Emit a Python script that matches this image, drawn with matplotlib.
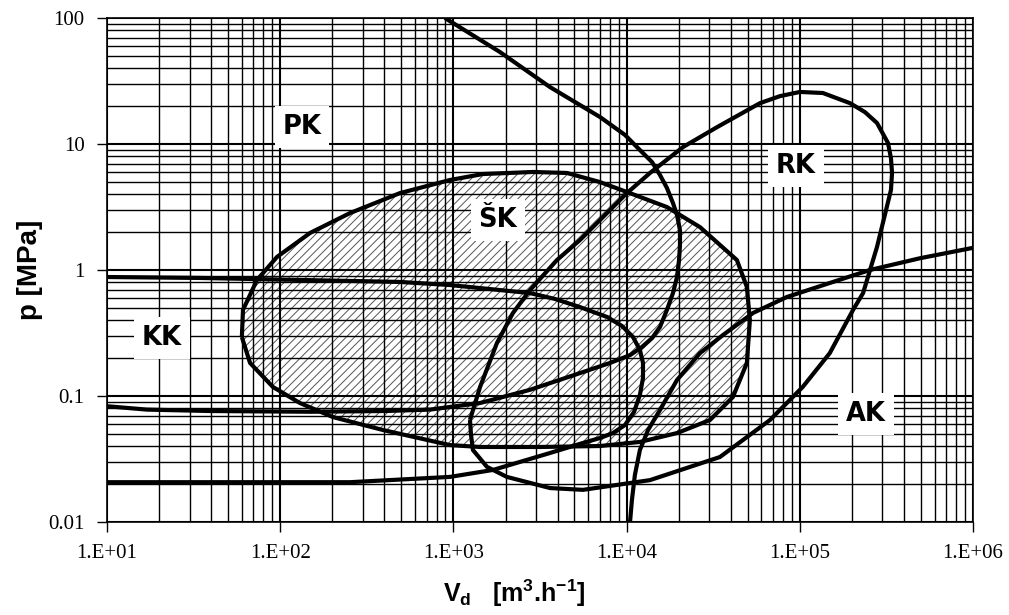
import numpy as np
import matplotlib.pyplot as plt
from matplotlib.ticker import FixedLocator, FuncFormatter, LogLocator, NullFormatter

plt.rcParams['mathtext.fontset'] = 'custom'
plt.rcParams['mathtext.rm'] = 'Liberation Sans'
plt.rcParams['mathtext.bf'] = 'Liberation Sans:bold'
plt.rcParams['hatch.linewidth'] = 0.7

# Boundaries of the compressor application fields, flow [m3/h] vs pressure [MPa]
# PK - piston compressors
pk_q = [894, 1858, 3614, 7015, 9795, 11940, 14030, 15590, 17100, 18530, 19550, 20340,
        20340, 20090, 19550, 18530, 17100, 15590, 14030, 12270, 10470, 8020,
        5380, 2770, 1426, 733, 400, 150, 40, 17, 10]
pk_p = [100, 53.7, 28.3, 16.4, 11.8, 8.96, 7.19, 5.68, 4.48, 3.40, 2.73, 2.07,
        1.58, 1.20, 0.88, 0.656, 0.482, 0.353, 0.288, 0.245, 0.211, 0.183,
        0.152, 0.112, 0.088, 0.078, 0.076, 0.075, 0.076, 0.078, 0.083]

# KK - rotary vane compressors
kk_q = [10, 34.4, 130, 492, 955, 2770, 3864, 5380, 7710, 9400, 10890, 11940, 12440,
        12440, 11940, 11040, 9795, 8340, 7015, 5600, 3614, 1694, 955, 253, 10]
kk_p = [0.88, 0.865, 0.834, 0.804, 0.76, 0.656, 0.589, 0.508, 0.424, 0.360, 0.294, 0.232, 0.183,
        0.139, 0.102, 0.0747, 0.0589, 0.0508, 0.0464, 0.0424, 0.0353, 0.0259, 0.0228, 0.0207, 0.0207]

# RK - radial compressors
rk_q = [1247, 1426, 1786, 2208, 2770, 3963, 5380, 7015, 10050, 13650, 21180, 33270,
        58900, 76900, 100200, 136000, 195000, 238000, 279000, 323000, 336000, 341000,
        336000, 318000, 279000, 232000, 203000, 149000, 104000, 67300, 34600, 13650,
        5600, 3614, 2037, 1563, 1297, 1265, 1247]
rk_p = [0.0645, 0.118, 0.264, 0.456, 0.693, 1.20, 1.73, 2.49, 4.08, 5.89, 9.46, 13.6,
        21.1, 24.0, 25.9, 25.4, 21.1, 17.9, 14.7, 10.2, 7.75, 5.89,
        4.31, 3.16, 1.52, 0.656, 0.482, 0.219, 0.118, 0.0645, 0.0328, 0.0215,
        0.0180, 0.0186, 0.0228, 0.0274, 0.0373, 0.049, 0.0645]

# SK - screw compressors (hatched field)
sk_q = [60.1, 61.0, 73.5, 95.9, 149, 253, 492, 955, 1483, 2884, 4529, 7015, 10050,
        17100, 26540, 43350, 49500, 51500, 49500, 41100, 30300, 19550, 11940, 7015,
        3162, 1426, 955, 393, 202, 130, 90.8, 67.0, 60.1]
sk_p = [0.294, 0.482, 0.834, 1.27, 1.97, 2.83, 4.08, 5.18, 5.78, 6.0, 5.89, 4.99, 4.16,
        3.16, 2.19, 1.20, 0.733, 0.401, 0.183, 0.0982, 0.0645, 0.0508, 0.0432, 0.0401,
        0.0394, 0.0394, 0.0408, 0.0537, 0.068, 0.088, 0.118, 0.183, 0.294]

# AK - axial compressors
ak_q = [10470, 10740, 11170, 11940, 13300, 15590, 19550, 26540, 36060, 53700, 84300,
        149000, 254000, 494000, 1e6]
ak_p = [0.01, 0.015, 0.0236, 0.0373, 0.0537, 0.0774, 0.134, 0.219, 0.305, 0.456, 0.611,
        0.789, 1.0, 1.24, 1.5]

labels = ['PK', 'ŠK', 'KK', 'RK', 'AK']
label_q = [134, 1807, 20.8, 95100, 241000]
label_p = [13.6, 2.5, 0.288, 6.68, 0.072]

x_ticks = [1e1, 1e2, 1e3, 1e4, 1e5, 1e6]
y_ticks = [0.01, 0.1, 1, 10, 100]
y_ticklabels = ['0.01', '0.1', '1', '10', '100']

fig = plt.figure(figsize=(10.09, 6.15), dpi=100)
ax = fig.add_axes([0.1060, 0.1512, 0.8583, 0.8195])
ax.set_xscale('log')
ax.set_yscale('log')
ax.set_xlim(1e1, 1e6)
ax.set_ylim(0.01, 100)

ax.xaxis.set_major_locator(FixedLocator(x_ticks))
ax.xaxis.set_major_formatter(FuncFormatter(lambda v, pos: '1.E+%02d' % round(np.log10(v))))
ax.yaxis.set_major_locator(FixedLocator(y_ticks))
ax.set_yticklabels(y_ticklabels)
for axis in (ax.xaxis, ax.yaxis):
    axis.set_minor_locator(LogLocator(base=10, subs=range(2, 10), numticks=20))
    axis.set_minor_formatter(NullFormatter())

ax.grid(True, which='major', color='black', lw=1.5)
ax.grid(True, which='minor', color='black', lw=1.0)
ax.tick_params(which='major', direction='out', length=7, width=1, pad=9,
               labelsize=15, labelfontfamily='Liberation Serif')
ax.tick_params(which='minor', length=0)
for s in ax.spines.values():
    s.set_linewidth(1.2)

ax.fill(sk_q, sk_p, facecolor='none', edgecolor='#555555', hatch='////', lw=0, zorder=1)

for q, p in [(pk_q, pk_p), (kk_q, kk_p), (rk_q, rk_p), (sk_q, sk_p), (ak_q, ak_p)]:
    ax.plot(q, p, color='black', lw=3, solid_joinstyle='round', solid_capstyle='butt', zorder=3)

for s, q, p in zip(labels, label_q, label_p):
    ax.text(q, p, s, ha='center', va='center', fontsize=18.5, fontweight='bold',
            family='DejaVu Sans', zorder=4,
            bbox=dict(boxstyle='square,pad=0.3', fc='white', ec='none'))

ax.set_xlabel(r'$\mathbf{V_d}$   [m$^\mathbf{3}$.h$^\mathbf{-1}$]', fontsize=18,
              fontweight='bold', family='Liberation Sans')
ax.xaxis.set_label_coords(0.47, -0.11)
ax.set_ylabel('p [MPa]', fontsize=20, fontweight='bold', family='Liberation Sans')
ax.yaxis.set_label_coords(-0.074, 0.5)

fig.savefig('out.png', dpi=100)
